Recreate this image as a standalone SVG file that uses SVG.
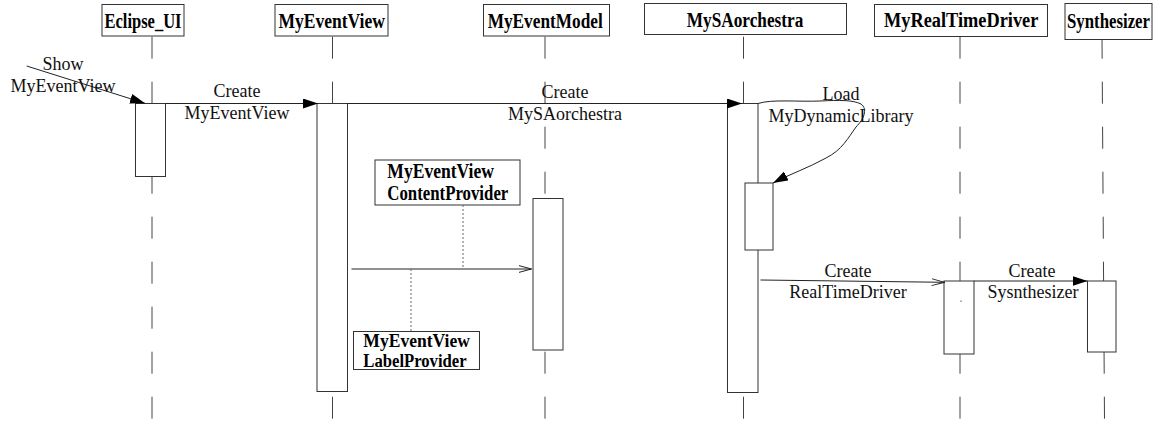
<svg xmlns="http://www.w3.org/2000/svg" width="1158" height="427" viewBox="0 0 1158 427">
  <style>
    .hdr { fill: #fff; stroke: #333; stroke-width: 1; }
    .hdr-text { font-family: "Liberation Serif", "Times New Roman", serif; font-weight: bold; font-size: 20px; fill: #000; text-anchor: middle; }
    .life { stroke: #444; stroke-width: 1; stroke-dasharray: 22 23; fill: none; }
    .act { fill: #fff; stroke: #333; stroke-width: 1; }
    .msg { stroke: #222; stroke-width: 1; fill: none; }
    .lbl { font-family: "Liberation Serif", "Times New Roman", serif; font-size: 18px; fill: #111; text-anchor: middle; }
    .note { fill: #fff; stroke: #333; stroke-width: 1; }
    .note-text { font-family: "Liberation Serif", "Times New Roman", serif; font-weight: bold; font-size: 20px; fill: #000; }
    .note-small { font-size: 18.5px; }
    .dot { stroke: #666; stroke-width: 1; stroke-dasharray: 2 2; fill: none; }
  </style>
  <defs>
    <marker id="arrowFill" markerUnits="userSpaceOnUse" markerWidth="15" markerHeight="10" refX="15" refY="5" orient="auto">
      <path d="M0,0 L15,5 L0,10 z" fill="#000"/>
    </marker>
    <marker id="arrowOpen" markerUnits="userSpaceOnUse" markerWidth="14" markerHeight="10" refX="13" refY="5" orient="auto">
      <path d="M0,1.5 L13,5 L0,8.5" fill="none" stroke="#222" stroke-width="1"/>
    </marker>
  </defs>

  <!-- lifelines -->
  <g id="lifelines">
    <line class="life" x1="152" y1="36.7" x2="152" y2="420"/>
    <line class="life" x1="332.5" y1="36.7" x2="332.5" y2="420"/>
    <line class="life" x1="545" y1="36.7" x2="545" y2="420"/>
    <line class="life" x1="743.5" y1="36.7" x2="743.5" y2="420"/>
    <line class="life" x1="960" y1="36.7" x2="960" y2="420"/>
    <line class="life" x1="1102" y1="36.7" x2="1104.5" y2="420"/>
  </g>

  <!-- participants -->
  <g id="eclipse-ui">
    <rect class="hdr" x="102" y="4.5" width="82" height="31.5"/>
    <text class="hdr-text" x="143" y="27.5" textLength="77" lengthAdjust="spacingAndGlyphs">Eclipse_UI</text>
    <rect class="act" x="135.5" y="103.5" width="30" height="73"/>
  </g>
  <g id="my-event-view">
    <rect class="hdr" x="275" y="4.5" width="113" height="31.5"/>
    <text class="hdr-text" x="331.7" y="27.5" textLength="106.5" lengthAdjust="spacingAndGlyphs">MyEventView</text>
    <rect class="act" x="317" y="103.5" width="30.5" height="288"/>
  </g>
  <g id="my-event-model">
    <rect class="hdr" x="483.5" y="4.5" width="126" height="31.5"/>
    <text class="hdr-text" x="545.2" y="27.5" textLength="115" lengthAdjust="spacingAndGlyphs">MyEventModel</text>
    <rect class="act" x="533" y="198.5" width="30" height="151.5"/>
  </g>
  <g id="my-sa-orchestra">
    <rect class="hdr" x="644.5" y="3.5" width="202" height="31"/>
    <text class="hdr-text" x="745" y="26.5" textLength="116.5" lengthAdjust="spacingAndGlyphs">MySAorchestra</text>
    <rect class="act" x="727.5" y="103.5" width="30.5" height="289"/>
    <rect class="act" x="745" y="183" width="28" height="67"/>
  </g>
  <g id="my-real-time-driver">
    <rect class="hdr" x="874.5" y="4.5" width="173" height="32"/>
    <text class="hdr-text" x="961.2" y="27" textLength="154.3" lengthAdjust="spacingAndGlyphs">MyRealTimeDriver</text>
    <rect class="act" x="944" y="281" width="30" height="73"/>
    <line x1="961" y1="300.5" x2="961" y2="302" stroke="#555" stroke-width="1"/>
  </g>
  <g id="synthesizer">
    <rect class="hdr" x="1065" y="3.5" width="87" height="36"/>
    <text class="hdr-text" x="1108.5" y="28" font-size="19" textLength="83" lengthAdjust="spacingAndGlyphs">Synthesizer</text>
    <rect class="act" x="1087.5" y="281" width="28.5" height="71"/>
  </g>

  <!-- notes -->
  <g id="content-provider">
    <rect class="note" x="375" y="160" width="145" height="45"/>
    <text class="note-text" x="387.3" y="178.3" textLength="106.7" lengthAdjust="spacingAndGlyphs">MyEventView</text>
    <text class="note-text" x="387.3" y="200" textLength="121" lengthAdjust="spacingAndGlyphs">ContentProvider</text>
  </g>
  <g id="label-provider">
    <rect class="note" x="353.5" y="331.5" width="126" height="38"/>
    <text class="note-text note-small" x="363.3" y="347" textLength="106.7" lengthAdjust="spacingAndGlyphs">MyEventView</text>
    <text class="note-text note-small" x="363.3" y="366.5" textLength="103.3" lengthAdjust="spacingAndGlyphs">LabelProvider</text>
  </g>

  <!-- messages -->
  <g id="connectors">
    <line class="msg" x1="26.7" y1="66" x2="145" y2="103.3" marker-end="url(#arrowFill)"/>
    <line class="msg" x1="165.5" y1="103.5" x2="318" y2="103.5" marker-end="url(#arrowFill)"/>
    <line class="msg" x1="347.5" y1="103.5" x2="742" y2="103.5" marker-end="url(#arrowFill)"/>
    <path class="msg" d="M758,103.5 C772,99 798,102 820,101 C840,100 853,100 861,104 C868,109 864,119 856,127 C848,138 842,150 826,158 C808,168 790,174 773,183" marker-end="url(#arrowFill)"/>
    <line class="msg" x1="351.5" y1="269" x2="531.5" y2="269" marker-end="url(#arrowOpen)"/>
    <line class="dot" x1="463" y1="205" x2="463" y2="269"/>
    <line class="dot" x1="411" y1="269" x2="411" y2="331.5"/>
    <line class="msg" x1="760.5" y1="280" x2="944.5" y2="282.3" marker-end="url(#arrowOpen)"/>
    <line class="msg" x1="974" y1="281" x2="1087.5" y2="281" marker-end="url(#arrowFill)"/>
  </g>

  <!-- message labels -->
  <g id="message-labels">
    <text class="lbl" x="63" y="70">Show</text>
    <text class="lbl" x="63" y="91.5">MyEventView</text>
    <text class="lbl" x="237" y="97">Create</text>
    <text class="lbl" x="237" y="118.5">MyEventView</text>
    <text class="lbl" x="565" y="98">Create</text>
    <text class="lbl" x="565" y="119.5">MySAorchestra</text>
    <text class="lbl" x="841" y="100">Load</text>
    <text class="lbl" x="841" y="121.5">MyDynamicLibrary</text>
    <text class="lbl" x="848" y="276.5">Create</text>
    <text class="lbl" x="848" y="297.5">RealTimeDriver</text>
    <text class="lbl" x="1032" y="276.5">Create</text>
    <text class="lbl" x="1033" y="297.5">Sysnthesizer</text>
  </g>
</svg>
